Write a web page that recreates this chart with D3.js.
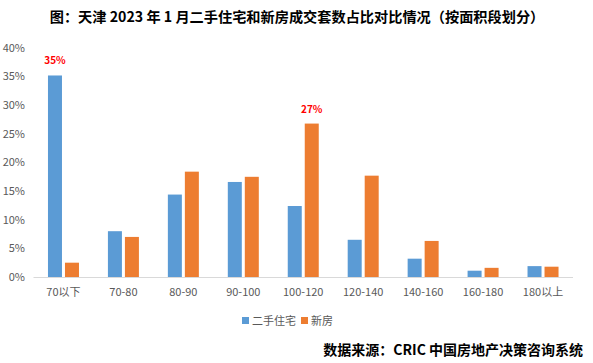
<!DOCTYPE html>
<html>
<head>
<meta charset="utf-8">
<script src="https://cdn.jsdelivr.net/npm/d3@7"></script>
<style>
  body { margin: 0; background: #fff; }
  svg { display: block; font-family: "Noto Sans CJK SC", "Noto Sans", sans-serif; }
</style>
</head>
<body>
<svg id="chart" width="593" height="363"></svg>
<script>
// area segments (sqm)
var categories = ["70以下", "70-80", "80-90", "90-100", "100-120", "120-140", "140-160", "160-180", "180以上"];
var seriesNames = ["二手住宅", "新房"];
// share of deals, %
var resaleValues = [35.2, 8.0, 14.4, 16.6, 12.4, 6.5, 3.2, 1.1, 1.9];
var newValues = [2.5, 7.0, 18.4, 17.5, 26.8, 17.7, 6.3, 1.6, 1.8];
var yTicks = [0, 5, 10, 15, 20, 25, 30, 35, 40];
// highlighted labels: [category index, series index, text]
var callouts = [[0, 0, "35%"], [4, 1, "27%"]];

var colors = ["#5B9BD5", "#ED7D31"];
var svg = d3.select("#chart");
var margin = { left: 33.5, right: 20, top: 48, bottom: 86 };
var W = 593, H = 363;

var x = d3.scaleBand().domain(categories).range([margin.left, W - margin.right]);
var y = d3.scaleLinear().domain([0, 40]).range([277, 48]);
var barW = 14, gap = 3;

// title
svg.append("text")
    .attr("x", 297).attr("y", 22)
    .attr("text-anchor", "middle")
    .attr("font-size", 14.2).attr("font-weight", "bold")
    .attr("fill", "#000")
    .text("图：天津 2023 年 1 月二手住宅和新房成交套数占比对比情况（按面积段划分）");

// y axis labels
svg.append("g").selectAll("text").data(yTicks).enter().append("text")
    .attr("x", 25).attr("y", function (d) { return y(d); })
    .attr("dy", "0.35em")
    .attr("text-anchor", "end")
    .attr("font-size", 11).attr("fill", "#595959")
    .text(function (d) { return d + "%"; });

// bars
var series = [resaleValues, newValues];
series.forEach(function (vals, s) {
    svg.append("g").selectAll("rect").data(vals).enter().append("rect")
        .attr("x", function (d, i) {
            var c = x(categories[i]) + x.bandwidth() / 2;
            return s === 0 ? c - gap / 2 - barW : c + gap / 2;
        })
        .attr("y", function (d) { return y(d); })
        .attr("width", barW)
        .attr("height", function (d) { return y(0) - y(d); })
        .attr("fill", colors[s]);
});

// x axis line
svg.append("line")
    .attr("x1", margin.left).attr("x2", W - margin.right)
    .attr("y1", y(0) + 0.5).attr("y2", y(0) + 0.5)
    .attr("stroke", "#d9d9d9").attr("stroke-width", 1);

// x labels
svg.append("g").selectAll("text").data(categories).enter().append("text")
    .attr("x", function (d) { return x(d) + x.bandwidth() / 2; })
    .attr("y", 296)
    .attr("text-anchor", "middle")
    .attr("font-size", 11).attr("fill", "#595959")
    .text(function (d) { return d; });

// callouts
callouts.forEach(function (c) {
    var val = series[c[1]][c[0]];
    var cx = x(categories[c[0]]) + x.bandwidth() / 2 + (c[1] === 0 ? -gap / 2 - barW / 2 : gap / 2 + barW / 2);
    svg.append("text")
        .attr("x", cx).attr("y", y(val) - 11)
        .attr("text-anchor", "middle")
        .attr("font-size", 10).attr("font-weight", "bold")
        .attr("fill", "#FF0000")
        .text(c[2]);
});

// legend
var legend = svg.append("g").attr("transform", "translate(242,321)");
var lx = 0;
seriesNames.forEach(function (name, i) {
    legend.append("rect").attr("x", lx).attr("y", -4).attr("width", 7).attr("height", 7).attr("fill", colors[i]);
    var t = legend.append("text").attr("x", lx + 10).attr("y", 0).attr("dy", "0.35em")
        .attr("font-size", 11).attr("fill", "#595959").text(name);
    lx += 10 + t.node().getComputedTextLength() + 5;
});

// source
svg.append("text")
    .attr("x", 583).attr("y", 355)
    .attr("text-anchor", "end")
    .attr("font-size", 14).attr("font-weight", "bold")
    .attr("fill", "#000")
    .text("数据来源：CRIC 中国房地产决策咨询系统");
</script>
</body>
</html>
